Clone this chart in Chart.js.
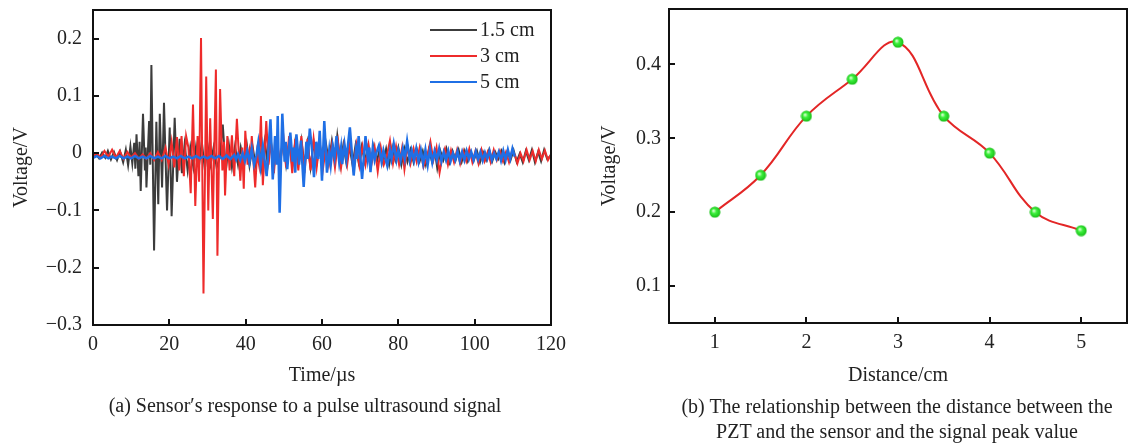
<!DOCTYPE html>
<html>
<head>
<meta charset="utf-8">
<script src="https://cdn.jsdelivr.net/npm/chart.js@4/dist/chart.umd.min.js"></script>
<style>
    html, body { margin: 0; padding: 0; background: #fff; }
    body { width: 1135px; height: 443px; position: relative; overflow: hidden; font-family: "Liberation Serif", "Times New Roman", serif; color: #222; }
    .panel { position: absolute; top: 0; height: 395px; }
    #leftPanel { left: 0; width: 567px; }
    #rightPanel { left: 567px; width: 568px; }
    .caption { position: absolute; font-size: 20px; line-height: 25px; text-align: center; white-space: nowrap; }
    #captionA { left: 0; width: 610px; top: 393px; }
    #captionB { left: 660px; width: 474px; top: 394px; }
</style>
</head>
<body>
<div class="panel" id="leftPanel"><canvas id="signalChart"></canvas></div>
<div class="panel" id="rightPanel"><canvas id="peakChart"></canvas></div>
<div class="caption" id="captionA">(a) Sensor′s response to a pulse ultrasound signal</div>
<div class="caption" id="captionB">(b) The relationship between the distance between the<br>PZT and the sensor and the signal peak value</div>

<script>
// ---- panel (a) data: [time µs, voltage V] ----
const seriesLabels = ["1.5 cm", "3 cm", "5 cm"];

const wave15cm = [
    [0,-0.006],[0.8,-0.002],[1.6,-0.009],[2.4,0.001],[3.2,-0.008],[3.9,0.004],[4.7,-0.011],[5.5,0.002],[6.3,-0.012],[7.1,0.003],
    [7.9,-0.016],[8.6,0.006],[9.2,-0.021],[9.8,0.012],[10.3,-0.018],[10.8,0.018],[11.1,-0.027],[11.4,0.033],[11.9,-0.040],[12.2,0.020],
    [12.5,-0.066],[13.1,0.069],[13.6,-0.030],[13.8,0.010],[14.0,-0.060],[14.7,0.056],[15.0,-0.020],[15.3,0.154],[16.0,-0.170],[16.6,0.055],
    [17.1,-0.089],[17.5,0.069],[18.1,-0.060],[18.6,0.088],[19.4,-0.100],[20.1,0.045],[20.6,-0.110],[21.4,0.062],[22.0,-0.050],[22.7,0.025],
    [23.3,-0.035],[24.0,0.015],[24.8,-0.030],[25.5,0.010],[26.3,-0.025],[27.0,0.012],[27.8,-0.020],[28.5,0.020],[29.3,-0.028],[30.0,0.015],
    [30.8,-0.020],[31.6,0.010],[32.4,-0.025],[33.2,-0.008],[34.0,0.050],[34.8,-0.030],[35.6,0.015],[36.4,-0.025],[37.2,0.012],[38.0,-0.020],
    [38.7,0.010],[39.5,-0.018],[40.3,0.015],[41.0,-0.022],[41.8,0.012],[42.6,-0.020],[43.4,0.018],[44.2,-0.025],[45.0,0.020],[45.8,-0.020],
    [46.6,0.022],[47.4,-0.025],[48.2,0.020],[49.0,-0.020],[49.8,0.025],[50.6,-0.020],[51.4,0.018],[52.2,-0.022],[53.0,0.020],[53.8,-0.018],
    [54.6,0.022],[55.4,-0.020],[56.2,0.018],[57.0,-0.025],[57.8,0.020],[58.6,-0.018],[59.4,0.015],[60.2,-0.020],[61.0,0.018],[61.8,-0.015],
    [62.6,0.022],[63.4,-0.010],[64.0,0.030],[64.8,-0.020],[65.6,0.015],[66.4,-0.018],[67.2,0.012],[68.0,-0.020],[68.8,0.014],[69.6,-0.016],
    [70.4,0.012],[71.2,-0.015],[72.0,0.010],[72.8,-0.018],[73.6,0.012],[74.4,-0.014],[75.2,0.010],[76.0,-0.016],[76.8,0.008],[77.6,-0.020],
    [78.4,0.010],[79.2,-0.012],[80.0,0.010],[80.8,-0.020],[81.6,0.008],[82.4,-0.015],[83.2,0.006],[84.0,-0.016],[84.8,0.008],[85.6,-0.014],
    [86.4,0.004],[87.2,-0.020],[88.0,0.006],[88.8,-0.014],[89.6,0.002],[90.2,-0.026],[91.0,0.004],[91.8,-0.012],[92.6,0.008],[93.4,-0.016],
    [94.2,0.004],[95.0,-0.012],[95.8,0.006],[96.6,-0.015],[97.4,0.004],[98.2,-0.014],[99.0,0.002],[99.8,-0.012],[100.6,0.004],[101.4,-0.016],
    [102.2,0.002],[103.0,-0.012],[103.8,0.006],[104.6,-0.014],[105.4,0.002],[106.2,-0.010],[107.0,0.004],[107.8,-0.016],[108.6,0.003],[109.4,-0.012],
    [110.2,0.005],[111.0,-0.015],[111.8,-0.001],[112.6,-0.016],[113.4,0.004],[114.2,-0.012],[115.0,0.006],[115.8,-0.016],[116.6,0.002],[117.4,-0.014],
    [118.2,0.006],[119.0,-0.010],[120.0,-0.004]
];

const wave3cm = [
    [0,-0.005],[1.0,0.000],[2.0,-0.008],[3.0,0.004],[4.0,-0.006],[5.0,0.006],[6.0,-0.008],[7.0,0.004],[8.0,-0.010],[9.0,0.002],
    [10.0,-0.008],[11.0,0.000],[12.0,-0.010],[13.0,-0.002],[14.0,-0.010],[15.0,0.000],[16.0,-0.012],[17.0,0.002],[18.0,-0.012],[19.0,0.010],
    [19.8,-0.020],[20.6,0.020],[21.3,-0.025],[22.0,0.028],[22.6,-0.030],[23.2,0.030],[23.8,-0.040],[24.4,0.030],[25.0,0.010],[25.6,-0.070],
    [26.2,0.085],[26.8,-0.092],[27.4,0.030],[27.8,-0.050],[28.3,0.201],[28.95,-0.245],[29.66,0.134],[30.2,-0.100],[30.7,0.061],[31.4,-0.115],
    [32.2,0.146],[32.6,-0.179],[33.3,0.112],[33.9,-0.030],[34.3,0.020],[34.6,-0.074],[35.2,0.030],[35.8,-0.030],[36.4,0.031],[37.0,-0.040],
    [37.7,0.060],[38.2,0.000],[38.6,-0.048],[39.1,0.010],[39.5,-0.062],[39.9,0.039],[40.5,-0.020],[41.0,0.005],[41.3,-0.010],[41.6,0.030],
    [42.5,-0.060],[43.0,0.000],[43.5,-0.020],[44.0,0.065],[44.5,-0.056],[45.4,0.056],[46.0,-0.020],[46.6,0.020],[47.4,-0.035],[48.2,0.030],
    [49.0,-0.030],[49.8,0.035],[50.6,-0.025],[51.4,0.030],[52.2,-0.035],[53.0,0.025],[53.8,-0.030],[54.6,0.030],[55.4,-0.035],[56.2,0.025],
    [57.0,-0.030],[57.8,0.025],[58.6,-0.025],[59.4,0.020],[60.2,-0.030],[61.0,0.010],[61.8,-0.020],[62.6,0.015],[63.4,-0.025],[64.2,0.020],
    [65.0,-0.025],[65.8,0.015],[66.6,-0.020],[67.4,0.020],[68.2,-0.025],[69.0,0.015],[69.8,-0.022],[70.6,0.012],[71.4,-0.020],[72.2,0.015],
    [73.0,-0.018],[73.8,0.010],[74.6,-0.032],[75.4,0.010],[76.2,-0.020],[77.0,-0.005],[77.8,0.022],[78.6,-0.018],[79.4,0.012],[80.2,-0.020],
    [81.0,0.010],[81.6,-0.028],[82.4,0.012],[83.2,-0.018],[84.0,0.008],[84.8,-0.015],[85.6,0.010],[86.6,-0.024],[87.6,-0.005],[88.4,0.020],
    [89.2,-0.012],[90.0,0.010],[90.8,-0.034],[91.6,-0.004],[92.2,0.008],[93.0,-0.020],[93.8,0.005],[94.6,-0.016],[95.4,0.006],[96.2,-0.018],
    [97.0,0.004],[97.8,-0.014],[98.6,0.008],[99.4,-0.016],[100.2,0.004],[101.0,-0.018],[101.8,0.006],[102.6,-0.014],[103.4,0.002],[104.2,-0.016],
    [105.0,0.006],[105.8,-0.012],[106.6,0.004],[107.4,-0.014],[108.2,0.002],[109.0,-0.016],[109.8,0.004],[110.6,-0.004],[111.2,-0.018],[112.0,0.000],
    [112.8,-0.014],[113.6,0.006],[114.4,-0.012],[115.2,0.004],[116.0,-0.014],[116.8,0.006],[117.6,-0.010],[118.4,0.005],[119.2,-0.012],[120.0,-0.002]
];

const wave5cm = [
    [0,-0.008],[1,-0.005],[2,-0.009],[3,-0.005],[4,-0.009],[5,-0.006],[6,-0.009],[7,-0.005],[8,-0.009],[9,-0.006],
    [10,-0.009],[11,-0.005],[12,-0.009],[13,-0.006],[14,-0.009],[15,-0.005],[16,-0.009],[17,-0.006],[18,-0.009],[19,-0.005],
    [20,-0.009],[21,-0.006],[22,-0.009],[23,-0.005],[24,-0.009],[25,-0.006],[26,-0.009],[27,-0.005],[28,-0.009],[29,-0.006],
    [30,-0.009],[31,-0.005],[32,-0.009],[33,-0.005],[34,-0.010],[35,-0.004],[36,-0.010],[37,-0.003],[37.5,-0.011],[38.0,-0.002],
    [38.6,-0.012],[39.2,0.000],[39.8,-0.014],[40.4,0.004],[41.0,-0.016],[41.6,0.008],[42.2,-0.020],[42.8,-0.005],[43.3,0.018],[43.9,-0.022],
    [44.5,0.012],[45.5,-0.040],[46.5,0.059],[47.1,-0.046],[47.7,0.030],[48.1,-0.020],[48.4,0.065],[48.9,-0.104],[49.6,0.069],[50.2,-0.015],
    [50.5,0.020],[50.9,-0.028],[51.7,0.036],[52.3,-0.015],[52.6,0.010],[53.0,-0.034],[53.3,0.033],[54.0,-0.020],[54.5,0.022],[55.2,-0.059],
    [55.9,0.020],[56.3,-0.010],[56.8,0.043],[57.4,0.005],[57.9,-0.042],[58.5,0.020],[59.0,-0.010],[59.4,0.039],[60.0,-0.048],[60.6,0.056],
    [61.3,-0.034],[61.9,0.005],[62.3,-0.020],[62.8,0.012],[63.3,-0.008],[63.8,0.030],[64.5,-0.015],[65.0,0.010],[65.3,-0.019],[65.9,0.015],
    [66.4,-0.010],[67.3,0.045],[68.3,-0.039],[68.9,0.005],[69.2,-0.010],[69.6,0.030],[70.5,-0.045],[71.4,0.030],[72.0,-0.010],[72.4,0.010],
    [72.7,-0.033],[73.3,0.010],[73.8,-0.012],[74.3,0.002],[74.9,0.013],[75.6,-0.015],[76.1,0.005],[77.1,-0.022],[77.8,0.005],[78.2,-0.010],
    [78.8,0.016],[79.5,-0.012],[80.0,0.005],[80.6,-0.013],[81.2,0.008],[81.7,-0.010],[82.3,0.021],[83.0,-0.012],[83.5,0.005],[84.1,-0.013],
    [84.7,0.008],[85.3,-0.015],[85.9,0.005],[86.5,-0.018],[87.1,0.006],[87.7,-0.020],[88.3,0.008],[88.9,-0.016],[89.5,0.004],[90.1,-0.012],
    [90.7,0.008],[91.3,-0.014],[91.9,0.002],[92.5,-0.012],[93.1,0.004],[93.7,-0.014],[94.3,0.000],[94.9,-0.012],[95.5,0.003],[96.1,-0.013],
    [96.7,0.002],[97.3,-0.012],[97.9,0.004],[98.5,-0.010],[99.1,0.002],[99.7,-0.012],[100.3,0.003],[100.9,-0.011],[101.5,0.002],[102.1,-0.013],
    [102.7,0.001],[103.3,-0.010],[103.9,0.004],[104.5,-0.012],[105.1,0.000],[105.7,-0.010],[106.3,0.002],[106.9,-0.013],[107.5,0.004],[108.1,-0.012],
    [108.7,0.006],[109.3,-0.010],[109.9,0.008],[110.5,-0.006]
];

const timeTicks = [0, 20, 40, 60, 80, 100, 120];
const voltTicksA = [-0.3, -0.2, -0.1, 0, 0.1, 0.2];

// ---- panel (b) data ----
const distanceCm = [1, 1.5, 2, 2.5, 3, 3.5, 4, 4.5, 5];
const peakVoltage = [0.2, 0.25, 0.33, 0.38, 0.43, 0.33, 0.28, 0.2, 0.175];
const distTicks = [1, 2, 3, 4, 5];
const voltTicksB = [0.1, 0.2, 0.3, 0.4];

const serif = "'Liberation Serif', 'Times New Roman', serif";
const textColor = "#222";

const toPoints = (pairs) => pairs.map(([x, y]) => ({x: x, y: y}));

const fixedTicks = (values) => (scale) =>
{
    scale.ticks = values.map(v => ({value: v}));
};

// fixed axis box, no extra room for overhanging end labels
const fixAxisSize = (size) => (scale) =>
{
    if (scale.isHorizontal())
    {
        scale.height = size;
    }
    else
    {
        scale.width = size;
    }
    scale.paddingTop = 0;
    scale.paddingBottom = 0;
    scale.paddingLeft = 0;
    scale.paddingRight = 0;
};

const minusLabel = (v) => v < 0 ? "\u2212" + Math.abs(v) : String(v);

// frame round the plot area + short inward tick marks
const framePlugin = {
    id: "frame",
    afterDraw(chart)
    {
        const {ctx, chartArea: a, scales} = chart;
        ctx.save();
        ctx.strokeStyle = "#111";
        ctx.lineWidth = 2;
        ctx.strokeRect(a.left, a.top, a.right - a.left, a.bottom - a.top);
        ctx.beginPath();
        scales.x.ticks.forEach(t =>
        {
            const px = Math.round(scales.x.getPixelForValue(t.value));
            ctx.moveTo(px, a.bottom);
            ctx.lineTo(px, a.bottom - 6);
        });
        scales.y.ticks.forEach(t =>
        {
            const py = Math.round(scales.y.getPixelForValue(t.value));
            ctx.moveTo(a.left, py);
            ctx.lineTo(a.left + 6, py);
        });
        ctx.stroke();
        ctx.restore();
    }
};

// legend in the top right corner of panel (a)
const insideLegendPlugin = {
    id: "insideLegend",
    afterDraw(chart)
    {
        const {ctx, chartArea: a} = chart;
        const datasets = chart.data.datasets;
        ctx.save();
        ctx.font = "20px " + serif;
        ctx.textBaseline = "middle";
        ctx.fillStyle = textColor;
        datasets.forEach((ds, i) =>
        {
            const y = a.top + 20 + i * 26;
            ctx.strokeStyle = ds.borderColor;
            ctx.lineWidth = 2;
            ctx.beginPath();
            ctx.moveTo(a.right - 121, y);
            ctx.lineTo(a.right - 74, y);
            ctx.stroke();
            ctx.fillText(ds.label, a.right - 71, y + 1);
        });
        ctx.restore();
    }
};

const axisFont = {family: serif, size: 20};

const makeBall = () =>
{
    const c = document.createElement("canvas");
    c.width = 12;
    c.height = 12;
    const g = c.getContext("2d");
    const grad = g.createRadialGradient(4.5, 4.5, 0.5, 6, 6, 6);
    grad.addColorStop(0, "#d8ffd0");
    grad.addColorStop(0.35, "#3cf03c");
    grad.addColorStop(1, "#14b814");
    g.fillStyle = grad;
    g.beginPath();
    g.arc(6, 6, 5.5, 0, Math.PI * 2);
    g.fill();
    return c;
};

Chart.defaults.animation = false;
Chart.defaults.color = textColor;

const signalCanvas = document.getElementById("signalChart");
signalCanvas.width = 567;
signalCanvas.height = 395;

new Chart(signalCanvas, {
    type: "line",
    data: {
        datasets: [
            {label: seriesLabels[0], data: toPoints(wave15cm), borderColor: "#3c3c3c", borderWidth: 2, order: 3},
            {label: seriesLabels[1], data: toPoints(wave3cm), borderColor: "#ee2b2b", borderWidth: 2, order: 2},
            {label: seriesLabels[2], data: toPoints(wave5cm), borderColor: "#1f6fe5", borderWidth: 2.5, order: 1}
        ]
    },
    options: {
        responsive: false,
        layout: {padding: {top: 10, right: 16, left: 0, bottom: 0}},
        elements: {point: {radius: 0}, line: {tension: 0}},
        plugins: {legend: {display: false}, tooltip: {enabled: false}},
        scales: {
            x: {
                type: "linear", min: 0, max: 120,
                afterBuildTicks: fixedTicks(timeTicks),
                afterFit: fixAxisSize(70),
                grid: {display: false, drawTicks: false},
                border: {display: false},
                ticks: {font: axisFont, padding: 8, maxRotation: 0},
                title: {display: true, text: "Time/µs", font: axisFont, padding: {top: 0, bottom: 7}}
            },
            y: {
                type: "linear", min: -0.3, max: 0.25,
                afterBuildTicks: fixedTicks(voltTicksA),
                afterFit: fixAxisSize(93),
                grid: {display: false, drawTicks: false},
                border: {display: false},
                ticks: {font: axisFont, padding: 11, callback: minusLabel},
                title: {display: true, text: "Voltage/V", font: axisFont, padding: {top: 10, bottom: 0}}
            }
        }
    },
    plugins: [framePlugin, insideLegendPlugin]
});

const peakCanvas = document.getElementById("peakChart");
peakCanvas.width = 568;
peakCanvas.height = 395;

new Chart(peakCanvas, {
    type: "line",
    data: {
        datasets: [{
            label: "Peak value",
            data: distanceCm.map((d, i) => ({x: d, y: peakVoltage[i]})),
            borderColor: "#e32626",
            borderWidth: 2,
            tension: 0.4,
            pointStyle: makeBall(),
            pointRadius: 6
        }]
    },
    options: {
        responsive: false,
        layout: {padding: {top: 9, right: 8, left: 0, bottom: 0}},
        plugins: {legend: {display: false}, tooltip: {enabled: false}},
        scales: {
            x: {
                type: "linear", min: 0.5, max: 5.5,
                afterBuildTicks: fixedTicks(distTicks),
                afterFit: fixAxisSize(72),
                grid: {display: false, drawTicks: false},
                border: {display: false},
                ticks: {font: axisFont, padding: 8, maxRotation: 0},
                title: {display: true, text: "Distance/cm", font: axisFont, padding: {top: 0, bottom: 7}}
            },
            y: {
                type: "linear", min: 0.05, max: 0.475,
                afterBuildTicks: fixedTicks(voltTicksB),
                afterFit: fixAxisSize(102),
                grid: {display: false, drawTicks: false},
                border: {display: false},
                ticks: {font: axisFont, padding: 8},
                title: {display: true, text: "Voltage/V", font: axisFont, padding: {top: 31, bottom: 0}}
            }
        }
    },
    plugins: [framePlugin]
});
</script>
</body>
</html>
